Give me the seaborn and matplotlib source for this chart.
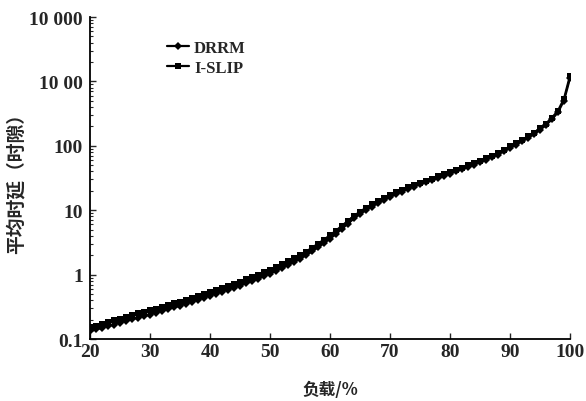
import numpy as np
import pandas as pd
import matplotlib
matplotlib.use("Agg")
import matplotlib.pyplot as plt
import matplotlib.ticker as mticker
import seaborn as sns

load = list(range(20, 101))

drrm = [0.132, 0.141, 0.150, 0.159, 0.168, 0.179, 0.191, 0.203, 0.215, 0.227,
        0.240, 0.256, 0.273, 0.292, 0.311, 0.330, 0.354, 0.378, 0.406, 0.439,
        0.472, 0.505, 0.543, 0.585, 0.628, 0.675, 0.732, 0.793, 0.860, 0.945,
        1.04, 1.14, 1.26, 1.40, 1.57, 1.76, 1.99, 2.29, 2.65, 3.08,
        3.60, 4.28, 5.15, 6.20, 7.45, 8.75, 10.0, 11.4, 12.8, 14.3,
        16.0, 17.7, 19.5, 21.4, 23.3, 25.2, 27.2, 29.2, 31.6, 34.0,
        37.0, 40.0, 43.4, 46.8, 50.8, 55.6, 60.5, 66.3, 73.2, 82.0,
        92.5, 104, 117, 133, 151, 176, 210, 258, 332, 505,
        1120]

islip = [0.152, 0.162, 0.173, 0.184, 0.195, 0.208, 0.222, 0.236, 0.250, 0.264,
         0.278, 0.297, 0.317, 0.338, 0.360, 0.382, 0.409, 0.436, 0.468, 0.505,
         0.543, 0.580, 0.624, 0.672, 0.721, 0.775, 0.840, 0.910, 0.985, 1.08,
         1.19, 1.31, 1.45, 1.60, 1.80, 2.01, 2.27, 2.61, 3.02, 3.50,
         4.08, 4.82, 5.75, 6.85, 8.15, 9.50, 10.9, 12.3, 13.8, 15.4,
         17.1, 18.9, 20.8, 22.8, 24.8, 26.8, 28.9, 31.0, 33.5, 36.2,
         39.2, 42.4, 46.0, 49.6, 53.9, 58.8, 64.2, 70.2, 77.3, 86.3,
         98.0, 110, 124, 140, 160, 186, 222, 274, 352, 540,
         1230]

ytick_vals = [0.1, 1, 10, 100, 1000, 10000]
ytick_labels = ["0.1", "1", "10", "100", "10 00", "10 000"]
xtick_vals = [20, 30, 40, 50, 60, 70, 80, 90, 100]

df = pd.DataFrame({"load": load, "DRRM": drrm, "I-SLIP": islip})

sns.set_style("ticks")
plt.rcParams['font.family'] = ['Liberation Serif', 'Noto Sans CJK SC']

fig = plt.figure(figsize=(5.86, 4.02), dpi=100)
ax = fig.add_axes([0.1536, 0.1542, 0.8191, 0.8010])

sns.lineplot(data=df, x="load", y="DRRM", ax=ax, color="black", lw=1.6,
             marker="D", markersize=4.5, markeredgewidth=0, label="DRRM")
sns.lineplot(data=df, x="load", y="I-SLIP", ax=ax, color="black", lw=1.6,
             marker="s", markersize=5, markeredgewidth=0, label="I-SLIP")

ax.set_yscale("log")
ax.set_ylim(0.1, 10000)
ax.set_xlim(20, 100)
ax.set_yticks(ytick_vals)
ax.set_yticklabels(ytick_labels, fontsize=14, fontweight="bold")
ax.set_xticks(xtick_vals)
ax.set_xticklabels([str(v) for v in xtick_vals], fontsize=14, fontweight="bold")
ax.yaxis.set_minor_locator(mticker.LogLocator(base=10, subs=np.arange(2, 10)))
ax.yaxis.set_minor_formatter(mticker.NullFormatter())
ax.tick_params(axis="both", which="major", direction="in", length=4, width=1)
ax.tick_params(axis="y", which="major", pad=5)
ax.tick_params(axis="x", which="major", pad=3)
ax.tick_params(axis="y", which="minor", direction="in", length=2, width=0.8)
sns.despine(ax=ax)
for s in ["left", "bottom"]:
    ax.spines[s].set_linewidth(1.3)
    ax.spines[s].set_color("black")

ax.set_xlabel("负载/%", fontsize=12, fontweight="bold",
              family=["Noto Sans CJK SC"], labelpad=14)
ax.set_ylabel("平均时延（时隙）", fontsize=13.5, fontweight="bold",
              family=["Noto Sans CJK SC"], labelpad=3)

leg = ax.legend(loc="upper left", bbox_to_anchor=(0.13, 0.975), frameon=False,
                handlelength=1.3, handletextpad=0.3, labelspacing=0.25,
                prop={"family": "Liberation Serif", "weight": "bold", "size": 12})

fig.savefig("out.png", dpi=100)
